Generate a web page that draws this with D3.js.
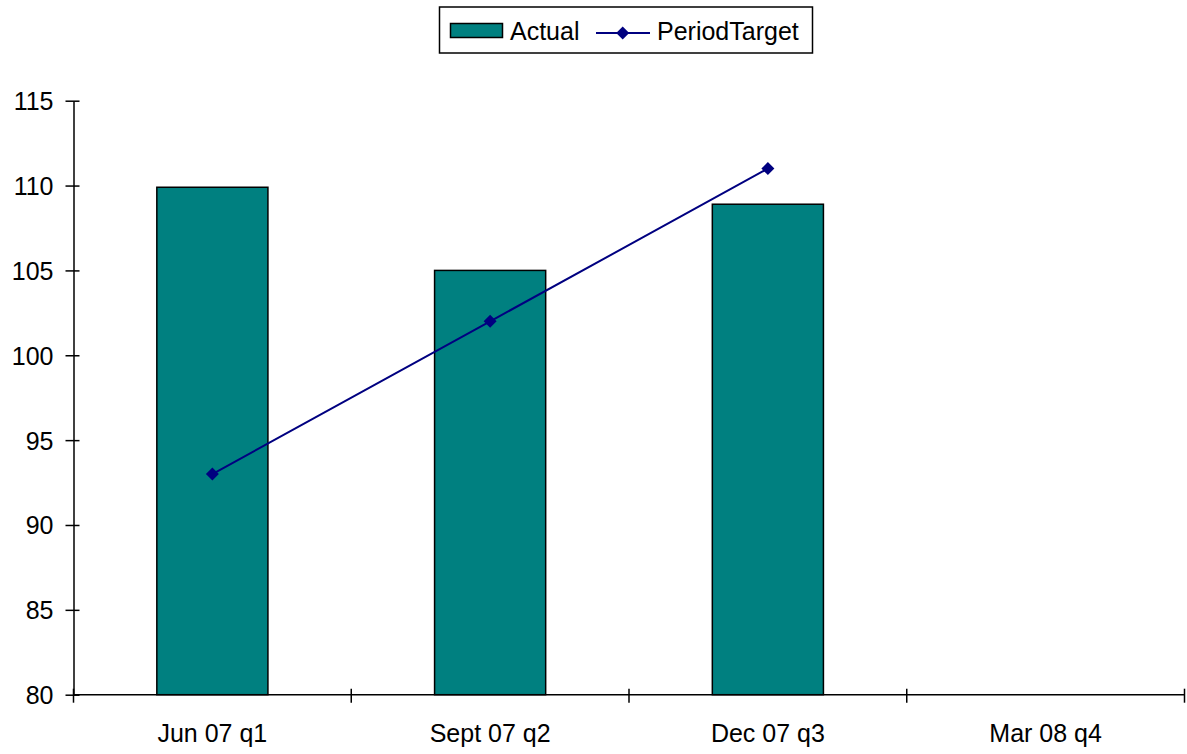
<!DOCTYPE html>
<html>
<head>
<meta charset="utf-8">
<script src="https://cdn.jsdelivr.net/npm/d3@7"></script>
<style>
  html, body { margin: 0; padding: 0; background: #fff; }
  svg { display: block; }
  text { font-family: "Liberation Sans", Arial, sans-serif; fill: #000; }
</style>
</head>
<body>
<svg id="chart" width="1187" height="754"></svg>
<script>
const categories = ["Jun 07 q1", "Sept 07 q2", "Dec 07 q3", "Mar 08 q4"];
const actual = [109.9, 105, 108.9, null];
const periodTarget = [93, 102, 111, null];
const yTicks = [80, 85, 90, 95, 100, 105, 110, 115];
const seriesNames = ["Actual", "PeriodTarget"];

const svg = d3.select("#chart");
const plotLeft = 73.5, plotRight = 1184.5, plotTop = 100.7, plotBottom = 694.7;
const fs = "25px";

const x = d3.scaleBand().domain(categories).range([plotLeft, plotRight]).paddingInner(0).paddingOuter(0);
const y = d3.scaleLinear().domain([80, 115]).range([plotBottom, plotTop]);
const barW = x.bandwidth() / 2.5;

// Bars
svg.append("g").selectAll("rect")
  .data(categories.map((c, i) => ({c, v: actual[i]})).filter(d => d.v != null))
  .join("rect")
  .attr("x", d => x(d.c) + (x.bandwidth() - barW) / 2)
  .attr("y", d => y(d.v))
  .attr("width", barW)
  .attr("height", d => y(80) - y(d.v))
  .attr("fill", "#008080")
  .attr("stroke", "#000")
  .attr("stroke-width", 1.5);

// Y axis
const yAxis = d3.axisLeft(y).tickValues(yTicks).tickSize(0).tickPadding(0).tickFormat(d3.format("d"));
const yg = svg.append("g").attr("transform", `translate(${plotLeft},0)`).call(yAxis);
yg.select(".domain").attr("stroke", "#000").attr("stroke-width", 1.5);
yg.selectAll(".tick line").remove();
yg.selectAll(".tick").append("line")
  .attr("x1", -8).attr("x2", 6).attr("stroke", "#000").attr("stroke-width", 1.5);
yg.selectAll(".tick text")
  .attr("x", -20).attr("dy", "0.36em")
  .style("font-size", fs).style("font-family", "Liberation Sans, Arial, sans-serif");

// X axis
const xg = svg.append("g").attr("transform", `translate(0,${plotBottom})`);
xg.append("line").attr("x1", plotLeft).attr("x2", plotRight).attr("stroke", "#000").attr("stroke-width", 1.5);
const bounds = categories.map(c => x(c)).concat([x(categories[categories.length - 1]) + x.bandwidth()]);
xg.selectAll("line.tk").data(bounds).join("line").attr("class", "tk")
  .attr("x1", d => d).attr("x2", d => d).attr("y1", -6).attr("y2", 8)
  .attr("stroke", "#000").attr("stroke-width", 1.5);
xg.selectAll("text").data(categories).join("text")
  .attr("x", d => x(d) + x.bandwidth() / 2)
  .attr("y", 47)
  .attr("text-anchor", "middle")
  .style("font-size", fs)
  .text(d => d);

// Line
const pts = categories.map((c, i) => ({c, v: periodTarget[i]})).filter(d => d.v != null);
const line = d3.line().x(d => x(d.c) + x.bandwidth() / 2).y(d => y(d.v));
svg.append("path").datum(pts).attr("d", line)
  .attr("fill", "none").attr("stroke", "#000080").attr("stroke-width", 2);
const diamond = "M0,-6.5L6.5,0L0,6.5L-6.5,0Z";
svg.append("g").selectAll("path").data(pts).join("path")
  .attr("transform", d => `translate(${x(d.c) + x.bandwidth() / 2},${y(d.v)})`)
  .attr("d", diamond).attr("fill", "#000080");

// Legend
const lg = svg.append("g");
lg.append("rect").attr("x", 439.5).attr("y", 7).attr("width", 373).attr("height", 46)
  .attr("fill", "#fff").attr("stroke", "#000").attr("stroke-width", 1.5);
lg.append("rect").attr("x", 450.5).attr("y", 23.5).attr("width", 52).attr("height", 14)
  .attr("fill", "#008080").attr("stroke", "#000").attr("stroke-width", 1.5);
lg.append("text").attr("x", 510).attr("y", 40).style("font-size", fs).text(seriesNames[0]);
lg.append("line").attr("x1", 596).attr("x2", 650).attr("y1", 33).attr("y2", 33)
  .attr("stroke", "#000080").attr("stroke-width", 2);
lg.append("path").attr("transform", "translate(622.7,33)").attr("d", diamond).attr("fill", "#000080");
lg.append("text").attr("x", 657).attr("y", 40).style("font-size", fs).text(seriesNames[1]);
</script>
</body>
</html>
